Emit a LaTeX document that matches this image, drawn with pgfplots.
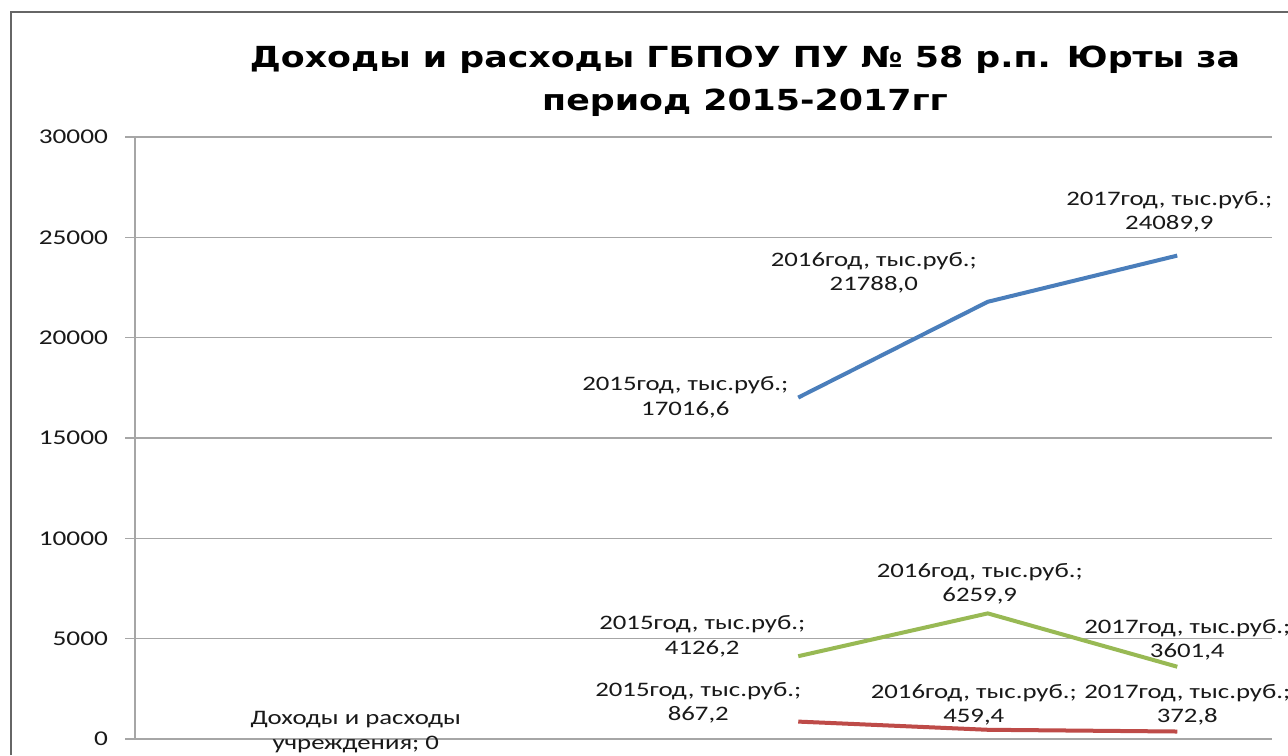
\documentclass[border=0pt]{standalone}
\usepackage{fontspec}
\setmainfont{Carlito}[FakeStretch=1.3]
\newfontfamily\titlefont{DejaVu Sans}[FakeStretch=1.2]
\usepackage{pgfplots}
\pgfplotsset{compat=1.18}
\definecolor{cblue}{HTML}{4A7EBB}
\definecolor{cred}{HTML}{BE4B48}
\definecolor{cgreen}{HTML}{98B954}
\definecolor{gridc}{HTML}{A6A6A6}
\tikzset{lbl/.style={align=center, font=\fontsize{10.3}{12.25}\selectfont, text=black!90, inner sep=0pt}}
\begin{document}
\begin{tikzpicture}
\path[use as bounding box] (0,0) rectangle (644pt,377.5pt);
\fill[white] (0,0) rectangle (644pt,377.5pt);
\draw[gray!80!black, line width=0.8pt] (5.5pt,0) -- (5.5pt,371.5pt) -- (644pt,371.5pt);
\node[font=\titlefont\bfseries\fontsize{14.5}{21.5}\selectfont, align=center] at (372.5pt,337pt) {Доходы и расходы ГБПОУ ПУ № 58 р.п. Юрты за\\период 2015-2017гг};
\begin{axis}[at={(67.5pt,8pt)}, anchor=south west, scale only axis,
  width=568.5pt, height=301pt,
  xmin=0.5, xmax=6.5, ymin=0, ymax=30000, ytick={0,5000,...,30000},
  axis lines*=left, axis line style={gridc, line width=0.6pt},
  ymajorgrids, grid style={gridc, line width=0.6pt},
  xtick=\empty, tick align=outside, major tick length=5pt,
  ytick style={gridc, line width=0.6pt},
  yticklabel style={font=\fontsize{10.5}{12}\selectfont, text=black!90, xshift=-5pt},
  /pgf/number format/assume math mode=true,
  /pgf/number format/1000 sep={},
  scaled y ticks=false,
  clip=false,
]
\addplot[cblue, line width=2pt, line join=round] coordinates {(4,17016.6) (5,21788.0) (6,24089.9)};
\addplot[cred, line width=2pt, line join=round] coordinates {(4,867.2) (5,459.4) (6,372.8)};
\addplot[cgreen, line width=2pt, line join=round] coordinates {(4,4126.2) (5,6259.9) (6,3601.4)};

\node[lbl, xshift=-56.5pt] at (axis cs:4,17016.6) {2015год, тыс.руб.;\\17016,6};
\node[lbl, xshift=-57pt, yshift=14.5pt] at (axis cs:5,21788.0) {2016год, тыс.руб.;\\21788,0};
\node[lbl, xshift=-4pt, yshift=22pt] at (axis cs:6,24089.9) {2017год, тыс.руб.;\\24089,9};

\node[lbl, xshift=-50pt, yshift=9.3pt] at (axis cs:4,867.2) {2015год, тыс.руб.;\\867,2};
\node[lbl, xshift=-7pt, yshift=12.5pt] at (axis cs:5,459.4) {2016год, тыс.руб.;\\459,4};
\node[lbl, xshift=5pt, yshift=13.3pt] at (axis cs:6,372.8) {2017год, тыс.руб.;\\372,8};

\node[lbl, xshift=-48pt, yshift=10pt] at (axis cs:4,4126.2) {2015год, тыс.руб.;\\4126,2};
\node[lbl, xshift=-4pt, yshift=14.7pt] at (axis cs:5,6259.9) {2016год, тыс.руб.;\\6259,9};
\node[lbl, xshift=5pt, yshift=13.5pt] at (axis cs:6,3601.4) {2017год, тыс.руб.;\\3601,4};

\node[lbl, xshift=63pt, yshift=3.5pt] at (axis cs:1,0) {Доходы и расходы\\учреждения; 0};
\end{axis}
\end{tikzpicture}
\end{document}
